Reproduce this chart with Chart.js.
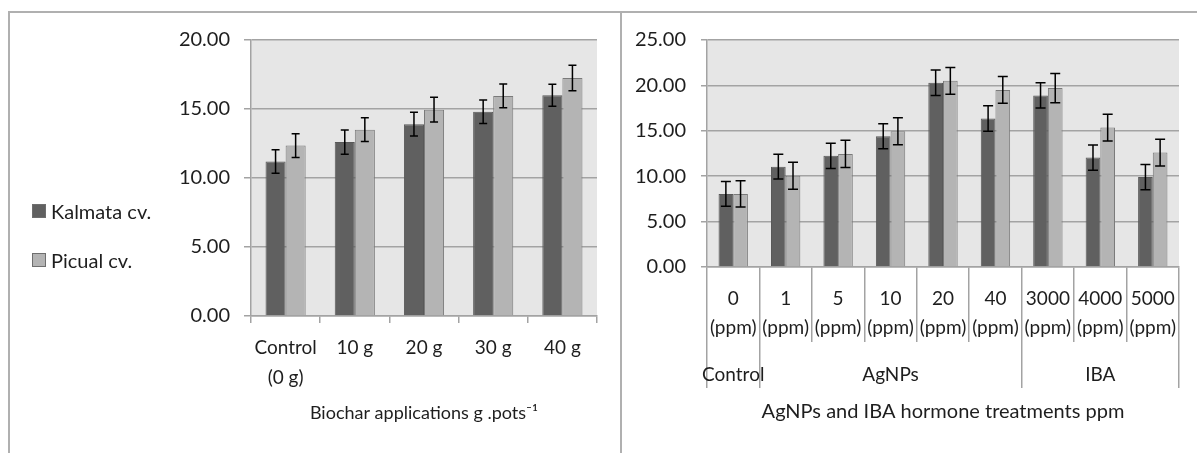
<!DOCTYPE html>
<html>
<head>
<meta charset="utf-8">
<script src="https://cdn.jsdelivr.net/npm/chart.js@4.4.1/dist/chart.umd.min.js"></script>
<style>
html, body { margin: 0; padding: 0; overflow: hidden; background: #fff; }
body { width: 1197px; height: 453px; position: relative; font-family: Lato, sans-serif; color: #1e1e1e; }
#frame { position: absolute; left: 8px; top: 11px; width: 1200px; height: 460px; border-left: 2px solid #b0b0b0; border-top: 2px solid #b0b0b0; }
#divider { position: absolute; left: 620px; top: 11px; width: 2px; height: 460px; background: #b0b0b0; }
#leftCanvas { position: absolute; left: 10px; top: 13px; }
#rightCanvas { position: absolute; left: 623px; top: 13px; }
.legend-item { position: absolute; left: 32px; height: 20px; display: flex; align-items: center; font-size: 20px; }
.legend-item span { width: 12px; height: 12px; border: 1px solid #6e6e6e; margin-right: 5px; }
</style>
</head>
<body>
<div id="frame"></div>
<div id="divider"></div>
<canvas id="leftCanvas" width="610" height="440"></canvas>
<canvas id="rightCanvas" width="574" height="440"></canvas>
<div class="legend-item" style="top:201px"><span style="background:#606060"></span>Kalmata cv.</div>
<div class="legend-item" style="top:250px"><span style="background:#b4b4b4"></span>Picual cv.</div>
<script>
// biochar panel
var biocharLabels = [['Control', '(0 g)'], '10 g', '20 g', '30 g', '40 g'];
var biocharKalmata = [11.2, 12.6, 13.9, 14.8, 16.0];
var biocharKalmataErr = [0.85, 0.87, 0.86, 0.85, 0.8];
var biocharPicual = [12.35, 13.5, 14.95, 15.95, 17.25];
var biocharPicualErr = [0.86, 0.86, 0.9, 0.86, 0.92];
var biocharTicks = [0, 5, 10, 15, 20];

// AgNPs / IBA panel
var hormoneLabels = [['0', '(ppm)'], ['1', '(ppm)'], ['5', '(ppm)'], ['10', '(ppm)'], ['20', '(ppm)'],
  ['40', '(ppm)'], ['3000', '(ppm)'], ['4000', '(ppm)'], ['5000', '(ppm)']];
var hormoneGroups = ['Control', '', '', 'AgNPs', '', '', '', 'IBA', ''];
var groupEdges = [0, 1, 6, 9];
var hormoneKalmata = [8.05, 11.05, 12.25, 14.4, 20.3, 16.35, 18.9, 12.05, 9.9];
var hormoneKalmataErr = [1.37, 1.37, 1.39, 1.37, 1.4, 1.4, 1.4, 1.39, 1.4];
var hormonePicual = [8.05, 10.05, 12.45, 14.95, 20.5, 19.5, 19.7, 15.35, 12.6];
var hormonePicualErr = [1.45, 1.48, 1.5, 1.48, 1.48, 1.47, 1.6, 1.48, 1.48];
var hormoneTicks = [0, 5, 10, 15, 20, 25];

var gridGray = '#a3a3a3';

Chart.defaults.font.family = 'Lato, sans-serif';
Chart.defaults.color = '#1e1e1e';

var plotBackground = {
  id: 'plotBackground',
  beforeDraw: function(chart) {
    var a = chart.chartArea, ctx = chart.ctx;
    ctx.save();
    ctx.fillStyle = '#e6e6e6';
    ctx.fillRect(a.left, a.top, a.right - a.left, a.bottom - a.top);
    ctx.restore();
  }
};

var errorBars = {
  id: 'errorBars',
  afterDatasetsDraw: function(chart, args, opts) {
    var ctx = chart.ctx, y = chart.scales.y;
    ctx.save();
    ctx.strokeStyle = '#000';
    ctx.lineWidth = 1.5;
    chart.data.datasets.forEach(function(ds, i) {
      chart.getDatasetMeta(i).data.forEach(function(bar, j) {
        var top = y.getPixelForValue(ds.data[j] + ds.errors[j]);
        var bottom = y.getPixelForValue(ds.data[j] - ds.errors[j]);
        ctx.beginPath();
        ctx.moveTo(bar.x, top); ctx.lineTo(bar.x, bottom);
        ctx.moveTo(bar.x - opts.cap, top); ctx.lineTo(bar.x + opts.cap, top);
        ctx.moveTo(bar.x - opts.cap, bottom); ctx.lineTo(bar.x + opts.cap, bottom);
        ctx.stroke();
      });
    });
    ctx.restore();
  }
};

function yAxis(ticks, width, pad, tick) {
  return {
    min: ticks[0],
    max: ticks[ticks.length - 1],
    afterBuildTicks: function(s) { s.ticks = ticks.map(function(v) { return {value: v}; }); },
    afterFit: function(s) { s.width = width; },
    grid: { color: gridGray, lineWidth: 1.5, tickLength: tick },
    border: { color: gridGray, width: 1.5 },
    ticks: { padding: pad, font: { size: 20 }, callback: function(v) { return v.toFixed(2); } }
  };
}

new Chart(document.getElementById('leftCanvas'), {
  type: 'bar',
  data: {
    labels: biocharLabels,
    datasets: [
      { label: 'Kalmata cv.', data: biocharKalmata, errors: biocharKalmataErr,
        backgroundColor: '#606060', borderColor: '#585858', borderWidth: 1 },
      { label: 'Picual cv.', data: biocharPicual, errors: biocharPicualErr,
        backgroundColor: '#b4b4b4', borderColor: '#7a7a7a', borderWidth: 1 }
    ]
  },
  options: {
    responsive: false,
    animation: false,
    layout: { padding: { left: 0, top: 27, right: 23, bottom: 0 } },
    datasets: { bar: { categoryPercentage: 0.58, barPercentage: 1 } },
    plugins: { legend: { display: false }, tooltip: { enabled: false }, errorBars: { cap: 4 } },
    scales: {
      x: {
        afterFit: function(s) { s.height = 137; },
        grid: { drawOnChartArea: false, color: gridGray, lineWidth: 1.5, tickLength: 7 },
        border: { color: gridGray, width: 1.5 },
        ticks: { padding: 10, autoSkip: false, maxRotation: 0, font: { size: 19, lineHeight: '30px' } },
        title: { display: true, text: 'Biochar applications g .pots\u207B\u00B9', font: { size: 18 }, padding: { top: 0, bottom: 29 } }
      },
      y: yAxis(biocharTicks, 241, 14, 7)
    }
  },
  plugins: [plotBackground, errorBars]
});

new Chart(document.getElementById('rightCanvas'), {
  type: 'bar',
  data: {
    labels: hormoneLabels,
    datasets: [
      { label: 'Kalmata cv.', data: hormoneKalmata, errors: hormoneKalmataErr,
        backgroundColor: '#606060', borderColor: '#585858', borderWidth: 1 },
      { label: 'Picual cv.', data: hormonePicual, errors: hormonePicualErr,
        backgroundColor: '#b4b4b4', borderColor: '#7a7a7a', borderWidth: 1 }
    ]
  },
  options: {
    responsive: false,
    animation: false,
    layout: { padding: { left: 0, top: 27, right: 18, bottom: 0 } },
    datasets: { bar: { categoryPercentage: 0.56, barPercentage: 1 } },
    plugins: { legend: { display: false }, tooltip: { enabled: false }, errorBars: { cap: 5 } },
    scales: {
      x: {
        weight: 0,
        afterFit: function(s) { s.height = 75; },
        grid: { drawOnChartArea: false, color: gridGray, lineWidth: 1.5, tickLength: 75 },
        border: { color: gridGray, width: 1.5 },
        ticks: { padding: -57.5, autoSkip: false, maxRotation: 0, font: { size: 19, lineHeight: '29px' } }
      },
      x2: {
        type: 'category',
        position: 'bottom',
        weight: 1,
        labels: hormoneGroups,
        offset: true,
        afterFit: function(s) { s.height = 111; },
        grid: {
          offset: true,
          drawOnChartArea: false,
          tickLength: 46,
          lineWidth: 1.5,
          color: function(ctx) {
            if (ctx.type !== 'tick') return gridGray;
            return groupEdges.indexOf(ctx.index) >= 0 ? gridGray : 'rgba(0,0,0,0)';
          }
        },
        border: { display: false },
        ticks: { padding: -24.4, autoSkip: false, maxRotation: 0, font: { size: 19 } },
        title: { display: true, text: 'AgNPs and IBA hormone treatments ppm', font: { size: 20 }, padding: { top: 0, bottom: 29 } }
      },
      y: yAxis(hormoneTicks, 84, 15, 6)
    }
  },
  plugins: [plotBackground, errorBars]
});
</script>
</body>
</html>
